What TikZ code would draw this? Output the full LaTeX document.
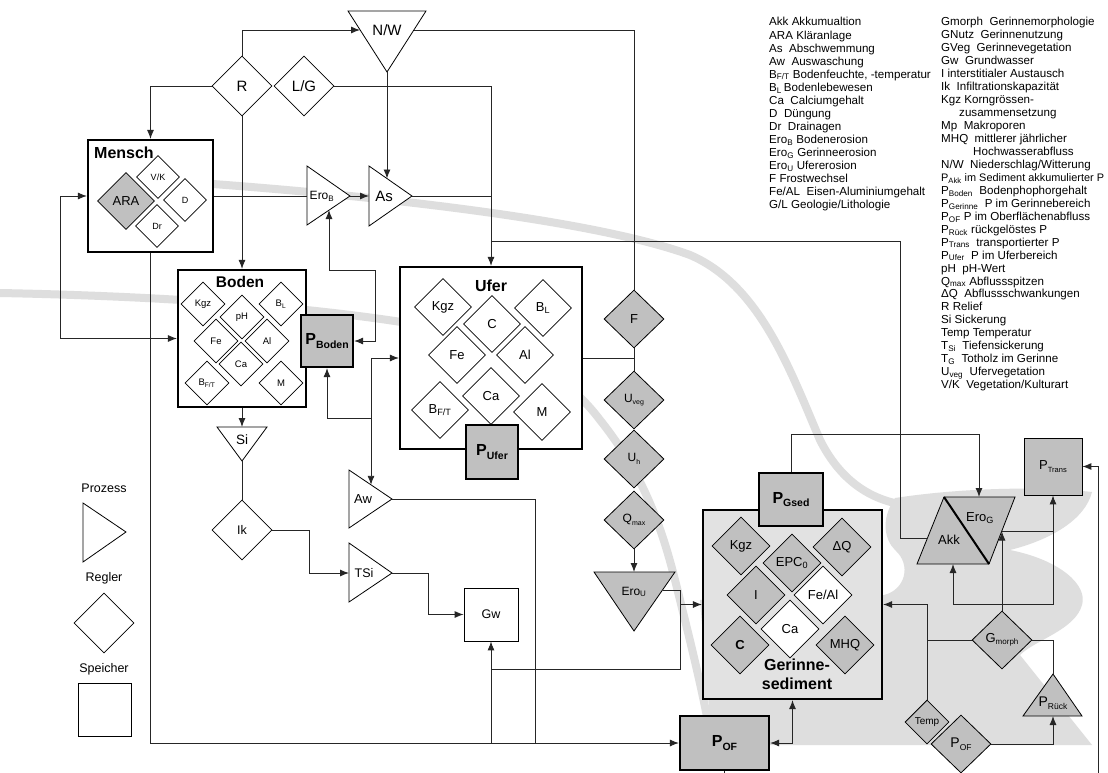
\documentclass[tikz,border=0pt]{standalone}
\usepackage{fontspec}
\setmainfont{Liberation Sans}
\usetikzlibrary{shapes.geometric,arrows.meta}
\definecolor{dg}{RGB}{192,192,192}
\definecolor{lg}{RGB}{226,226,226}
\definecolor{bgc}{RGB}{222,222,222}
\newcommand{\fsz}[1]{\fontsize{#1}{#1}\selectfont}
\newcommand{\PB}[1]{{\bfseries\fontsize{16}{16}\selectfont P\raisebox{-3.5pt}{\fontsize{10.5}{10.5}\selectfont #1}}}
\newcommand{\sbx}[2][7]{\raisebox{-2.5pt}{\fontsize{#1}{#1}\selectfont #2}}
\tikzset{
 conn/.style={line width=0.9pt, black!85},
 arr/.style={conn, -{Latex[length=9pt,width=7pt]}},
 darr/.style={conn, {Latex[length=9pt,width=7pt]}-{Latex[length=9pt,width=7pt]}},
 reg/.style={diamond, draw, line width=0.8pt, fill=white, inner sep=0pt, minimum width=#1, minimum height=#1},
 regg/.style={reg=#1, fill=dg},
 thickbox/.style={draw, line width=2.2pt, inner sep=0pt},
 pbox/.style={thickbox, fill=dg},
 lbl/.style={inner sep=0pt},
 proc/.style={draw, line width=0.8pt, fill=white, line join=miter},
 band/.style={draw=bgc, line width=8pt, line cap=round},
 leg/.style={inner sep=0pt, anchor=base west, font=\fsz{11.6}},
}
\begin{document}
\begin{tikzpicture}[x=1pt,y=-1pt]
\useasboundingbox (0,0) rectangle (1108,773);
\fill[white] (0,0) rectangle (1108,773);

% ---------- background swooshes ----------
\fill[bgc] (895,498) .. controls (960,488) and (1040,486) .. (1092,492)
  .. controls (1085,520) and (1050,540) .. (1010,550)
  .. controls (1060,560) and (1088,585) .. (1082,605)
  .. controls (1075,630) and (1035,640) .. (1020,655)
  -- (1092,745) -- (712,745) -- (700,600) -- (884,595)
  .. controls (905,590) and (912,565) .. (895,550)
  .. controls (885,540) and (880,520) .. (895,498) -- cycle;
\draw[band] (0,293) .. controls (150,296) and (300,305) .. (420,325)
  .. controls (520,345) and (570,380) .. (600,420)
  .. controls (640,470) and (660,520) .. (675,580)
  .. controls (690,640) and (705,700) .. (712,745);
\draw[band] (213,184) .. controls (400,198) and (600,222) .. (690,255)
  .. controls (760,285) and (790,370) .. (820,440)
  .. controls (840,480) and (870,500) .. (905,505);

% ---------- top ----------
\draw[proc] (348,11) -- (426,11) -- (387,72) -- cycle;
\node[lbl, font=\fsz{15}] (NW) at (387,30) {N/W};
\coordinate (NWl) at (360,30);
\coordinate (NWr) at (414,30);
\coordinate (NWb) at (387,72);
\node[reg=60pt, font=\fsz{15}] (R) at (242,86) {R};
\node[reg=60pt, font=\fsz{15}] (LG) at (304,86) {L/G};

% ---------- Mensch ----------
\node[thickbox, fill=white, minimum width=125pt, minimum height=112pt] (Mensch) at (150.5,196) {};
\node[lbl, anchor=west, font=\bfseries\fsz{16}] (MenschT) at (94,153) {Mensch};
\node[regg=57pt, font=\fsz{13}] (ARA) at (126,201) {ARA};
\node[reg=43pt, font=\fsz{9}] (VK) at (158,177) {V/K};
\node[reg=43pt, font=\fsz{9}] (D) at (185,200) {D};
\node[reg=43pt, font=\fsz{9}] (Dr) at (157,226) {Dr};

% ---------- Ero_B, As ----------
\draw[proc] (307,166) -- (350,196) -- (307,225) -- cycle;
\node[lbl, font=\fsz{12}] (EroB) at (322,196) {Ero\textsubscript{B}};
\coordinate (EroBl) at (307,196);
\coordinate (EroBt) at (350,196);
\coordinate (EroBb) at (329,210);
\draw[proc] (369,166) -- (412,196) -- (369,226) -- cycle;
\node[lbl, font=\fsz{15}] (As) at (384,196) {As};
\coordinate (Asl) at (369,196);
\coordinate (Ast) at (412,196);
\coordinate (AsTop) at (387,178.5);

% ---------- Boden ----------
\node[thickbox, fill=white, minimum width=128pt, minimum height=137pt] (Boden) at (242,338.5) {};
\node[lbl, font=\bfseries\fsz{15.5}] (BodenT) at (240,282) {Boden};
\node[reg=44pt, font=\fsz{9.5}] (bKgz) at (203,304) {Kgz};
\node[reg=44pt, font=\fsz{9.5}] (bpH) at (242,317) {pH};
\node[reg=44pt, font=\fsz{9.5}] (bBL) at (281,304) {B\textsubscript{L}};
\node[reg=44pt, font=\fsz{9.5}] (bFe) at (216,341) {Fe};
\node[reg=44pt, font=\fsz{9.5}] (bAl) at (267,341) {Al};
\node[reg=44pt, font=\fsz{9.5}] (bCa) at (241,364) {Ca};
\node[reg=44pt, font=\fsz{9.5}] (bBFT) at (207,383) {B\textsubscript{F/T}};
\node[reg=44pt, font=\fsz{9.5}] (bM) at (281,383) {M};
\node[pbox, minimum width=52pt, minimum height=52pt] (PBoden) at (327,341) {\PB{Boden}};

% ---------- Ufer ----------
\node[thickbox, fill=white, minimum width=182pt, minimum height=182pt] (Ufer) at (491,358) {};
\node[lbl, font=\bfseries\fsz{16}] (UferT) at (491,286) {Ufer};
\node[reg=57pt, font=\fsz{13}] (uKgz) at (443,307) {Kgz};
\node[reg=57pt, font=\fsz{13}] (uC) at (492,324) {C};
\node[reg=57pt, font=\fsz{13}] (uBL) at (543,308) {B\textsubscript{L}};
\node[reg=57pt, font=\fsz{13}] (uFe) at (457,355) {Fe};
\node[reg=57pt, font=\fsz{13}] (uAl) at (525,355) {Al};
\node[reg=57pt, font=\fsz{13}] (uBFT) at (440,410) {B\textsubscript{F/T}};
\node[reg=57pt, font=\fsz{13}] (uCa) at (491,396) {Ca};
\node[reg=57pt, font=\fsz{13}] (uM) at (542,412) {M};
\node[pbox, minimum width=52pt, minimum height=54pt] (PUfer) at (492,452) {\PB{Ufer}};

% ---------- F column ----------
\node[regg=60pt, minimum height=58pt, font=\fsz{13}] (F) at (634,319) {F};
\node[regg=60pt, minimum height=58pt, font=\fsz{12}] (Uveg) at (634,400) {U\sbx[7]{veg}};
\node[regg=60pt, minimum height=58pt, font=\fsz{12}] (Uh) at (634,459) {U\sbx[7]{h}};
\node[regg=60pt, minimum height=58pt, font=\fsz{12}] (Qmax) at (634,520) {Q\sbx[7]{max}};
\draw[proc, fill=dg] (594,572) -- (675,572) -- (634,631) -- cycle;
\node[lbl, font=\fsz{12}] (EroU) at (634,592) {Ero\textsubscript{U}};
\coordinate (EroUt) at (634,572);
\coordinate (EroUr) at (662.5,590);

% ---------- Si, Ik, Aw, TSi, Gw ----------
\draw[proc] (217,427) -- (267,427) -- (242,461) -- cycle;
\node[lbl, font=\fsz{13.5}] (Si) at (242,440) {Si};
\coordinate (SiTop) at (242,427);
\coordinate (SiB) at (242,461);
\node[reg=60pt, font=\fsz{12.5}] (Ik) at (242,530) {Ik};
\draw[proc] (349,470) -- (392,499) -- (349,528) -- cycle;
\node[lbl, font=\fsz{13}] (Aw) at (363,499) {Aw};
\coordinate (AwTop) at (371,484.8);
\coordinate (Awt) at (392,499);
\draw[proc] (349,543) -- (392,573) -- (349,602) -- cycle;
\node[lbl, font=\fsz{12.5}] (TSi) at (364,573) {TSi};
\coordinate (TSil) at (349,573);
\coordinate (TSit) at (392,573);
\node[draw, line width=0.8pt, fill=white, minimum width=54pt, minimum height=53pt, font=\fsz{12.5}] (Gw) at (491,614.5) {Gw};

% ---------- legend (left) ----------
\node[lbl, font=\fsz{12.5}] (lgP) at (104,488) {Prozess};
\draw[proc] (83,503) -- (126,532) -- (83,562) -- cycle;
\node[lbl, font=\fsz{12.5}] (lgR) at (104,578) {Regler};
\node[reg=60pt] (lgD) at (104,623) {};
\node[lbl, font=\fsz{12.5}] (lgS) at (104,669) {Speicher};
\node[draw, line width=0.8pt, minimum width=53pt, minimum height=53pt] (lgB) at (104.5,709.5) {};

% ---------- Gerinnesediment ----------
\node[thickbox, fill=lg, minimum width=179pt, minimum height=189pt] (Ger) at (792.5,604.5) {};
\node[lbl, font=\bfseries\fontsize{16}{19}\selectfont, align=center] (GerT) at (797,674) {Gerinne-\\sediment};
\node[regg=58pt, font=\fsz{13}] (gKgz) at (741,546) {Kgz};
\node[regg=58pt, font=\fsz{13}] (gEPC) at (792,563) {EPC\textsubscript{0}};
\node[regg=58pt, font=\fsz{13}] (gDQ) at (842,547) {ΔQ};
\node[regg=58pt, font=\fsz{13}] (gI) at (756,595) {I};
\node[reg=58pt, font=\fsz{13}] (gFeAl) at (823,595) {Fe/Al};
\node[reg=58pt, font=\fsz{13}] (gCa) at (790,629) {Ca};
\node[regg=58pt, font=\bfseries\fsz{13}] (gC) at (740,645) {C};
\node[regg=58pt, font=\fsz{13}] (gMHQ) at (845,645) {MHQ};
\node[pbox, minimum width=64pt, minimum height=53pt] (PGsed) at (791,499.5) {\PB{Gsed}};
\node[pbox, minimum width=89pt, minimum height=54pt] (POF) at (724.5,743) {\PB{OF}};

% ---------- Akk / Ero_G ----------
\fill[dg] (917,564) -- (944,497) -- (1015,497) -- (989,564) -- cycle;
\draw[line width=0.8pt] (917,564) -- (944,497) -- (1015,497) -- (989,564) -- cycle;
\draw[line width=2pt] (944,497) -- (989,564);
\node[lbl, font=\fsz{13}] (Akk) at (949,540) {Akk};
\node[lbl, font=\fsz{13}] (EroG) at (980,518) {Ero\textsubscript{G}};
\coordinate (AkkL) at (927.5,538);
\coordinate (AkkB) at (953,564);
\coordinate (EroGtop) at (979,497);
\coordinate (EroGr) at (1002,531.5);

\node[draw, line width=0.8pt, fill=dg, minimum width=58pt, minimum height=57pt, font=\fsz{13}] (PTrans) at (1053,466.5) {P\sbx[7.5]{Trans}};
\node[regg=60pt, minimum height=58pt, font=\fsz{13}] (Gm) at (1002,640) {G\sbx[8]{morph}};
\draw[proc, fill=dg] (1053,674) -- (1082,716) -- (1023,716) -- cycle;
\node[lbl, font=\fsz{14}] (PR) at (1053,703) {P\sbx[8.5]{Rück}};
\coordinate (PRt) at (1053,674);
\coordinate (PRb) at (1053,716);
\node[regg=44pt, font=\fsz{10}] (Temp) at (927,722) {Temp};
\node[regg=60pt, minimum height=58pt, font=\fsz{14}] (POFd) at (961,744) {P\sbx[8.5]{OF}};
\coordinate (RightEnd) at (1098,773);

% ---------- legend (right) ----------
\foreach \txt [count=\i from 0] in {
 {Akk Akkumualtion},
 {ARA Kläranlage},
 {As~ Abschwemmung},
 {Aw~ Auswaschung},
 {B\textsubscript{F/T} Bodenfeuchte, -temperatur},
 {B\textsubscript{L}\,Bodenlebewesen},
 {Ca~ Calciumgehalt},
 {D~ Düngung},
 {Dr~ Drainagen},
 {Ero\textsubscript{B} Bodenerosion},
 {Ero\textsubscript{G} Gerinneerosion},
 {Ero\textsubscript{U} Ufererosion},
 {F Frostwechsel},
 {Fe/AL~ Eisen-Aluminiumgehalt},
 {G/L Geologie/Lithologie}}
 \node[leg] (ca\i) at (769,{26+13.05*\i}) {\txt};
\foreach \txt [count=\i from 0] in {
 {Gmorph~ Gerinnemorphologie},
 {GNutz~ Gerinnenutzung},
 {GVeg~ Gerinnevegetation},
 {Gw~ Grundwasser},
 {I interstitialer Austausch},
 {Ik~ Infiltrationskapazität},
 {Kgz Korngrössen-},
 {\hspace*{18pt}zusammensetzung},
 {Mp~ Makroporen},
 {MHQ~ mittlerer jährlicher},
 {\hspace*{32pt}Hochwasserabfluss},
 {N/W~ Niederschlag/Witterung},
 {\fsz{10.9}P\textsubscript{Akk} im Sediment akkumulierter P},
 {P\textsubscript{Boden}~ Bodenphophorgehalt},
 {P\textsubscript{Gerinne}~ P im Gerinnebereich},
 {P\textsubscript{OF} P im Oberflächenabfluss},
 {P\textsubscript{Rück} rückgelöstes P},
 {P\textsubscript{Trans}~ transportierter P},
 {P\textsubscript{Ufer}~ P im Uferbereich},
 {pH~ pH-Wert},
 {Q\textsubscript{max} Abflussspitzen},
 {ΔQ~ Abflussschwankungen},
 {R Relief},
 {Si Sickerung},
 {Temp Temperatur},
 {T\textsubscript{Si}~ Tiefensickerung},
 {T\textsubscript{G}~ Totholz im Gerinne},
 {U\textsubscript{veg}~ Ufervegetation},
 {V/K~ Vegetation/Kulturart}}
 \node[leg] (cb\i) at (941,{26+12.95*\i}) {\txt};

% ---------- connectors ----------
\draw[arr] (R.north) |- (NWl);
\draw[arr] (R.west) -| (Mensch.north);
\draw[arr] (R.south) -- (Boden.north);
\draw[arr] (LG.east) -| (Ufer.north);
\draw[arr] (NWb) -- (AsTop);
\draw[conn] (NWr) -| (F.north);
\draw[conn] (Mensch.east) -- (EroBl);
\draw[arr] (EroBt) -- (Asl);
\draw[conn] (Ast) -- (491,196);
\coordinate (J1) at (491,241);
\draw[conn] (J1) -- (900,241) -- (900,538) -- (AkkL);
\draw[darr] (Mensch.west) -- (60,196) |- (Boden.west);
\draw[darr] (EroBb) -- (329,270) -- (375,270) |- (PBoden.east);
\coordinate (J2) at (371,358);
\draw[arr] (J2) -- (Ufer.west);
\draw[arr] (J2) -- (AwTop);
\draw[arr] (371,418) -| (PBoden.south);
\draw[arr] (Boden.south) -- (SiTop);
\draw[conn] (SiB) -- (Ik.north);
\draw[arr] (Ik.east) -- (309,530) |- (TSil);
\draw[arr] (TSit) -- (428,573) |- (Gw.west);
\draw[conn] (Awt) -- (535,499) -- (535,743);
\draw[arr] (Mensch.south) |- (POF.west);
\draw[arr] (491,743) -- (Gw.south);
\draw[conn] (Ufer.east) -- (634,358);
\draw[conn] (F.south) -- (Uveg.north);
\draw[arr] (Qmax.south) -- (EroUt);
\draw[conn] (EroUr) -- (680,590) -- (680,669) -- (491,669);
\draw[arr] (680,590) |- (Ger.west);
\draw[darr] (POF.east) -| (Ger.south);
\draw[conn] (POF.south) -- ++(0,5);
\draw[arr] (PGsed.north) -- (791,434) -| (EroGtop);
\draw[arr] (Gm.north) -- (EroGr);
\draw[arr] (1002,604) -| (AkkB);
\draw[conn] (1002,604) -| (1053,531.5);
\draw[arr] (EroGr) -- (1053,531.5) -- (PTrans.south);
\draw[arr] (RightEnd) |- (PTrans.east);
\draw[arr] (Gm.west) -- (927,640) |- (Ger.east);
\draw[conn] (927,640) -- (Temp.north);
\draw[conn] (Gm.east) -| (PRt);
\draw[arr] (POFd.east) -| (PRb);
\end{tikzpicture}
\end{document}
